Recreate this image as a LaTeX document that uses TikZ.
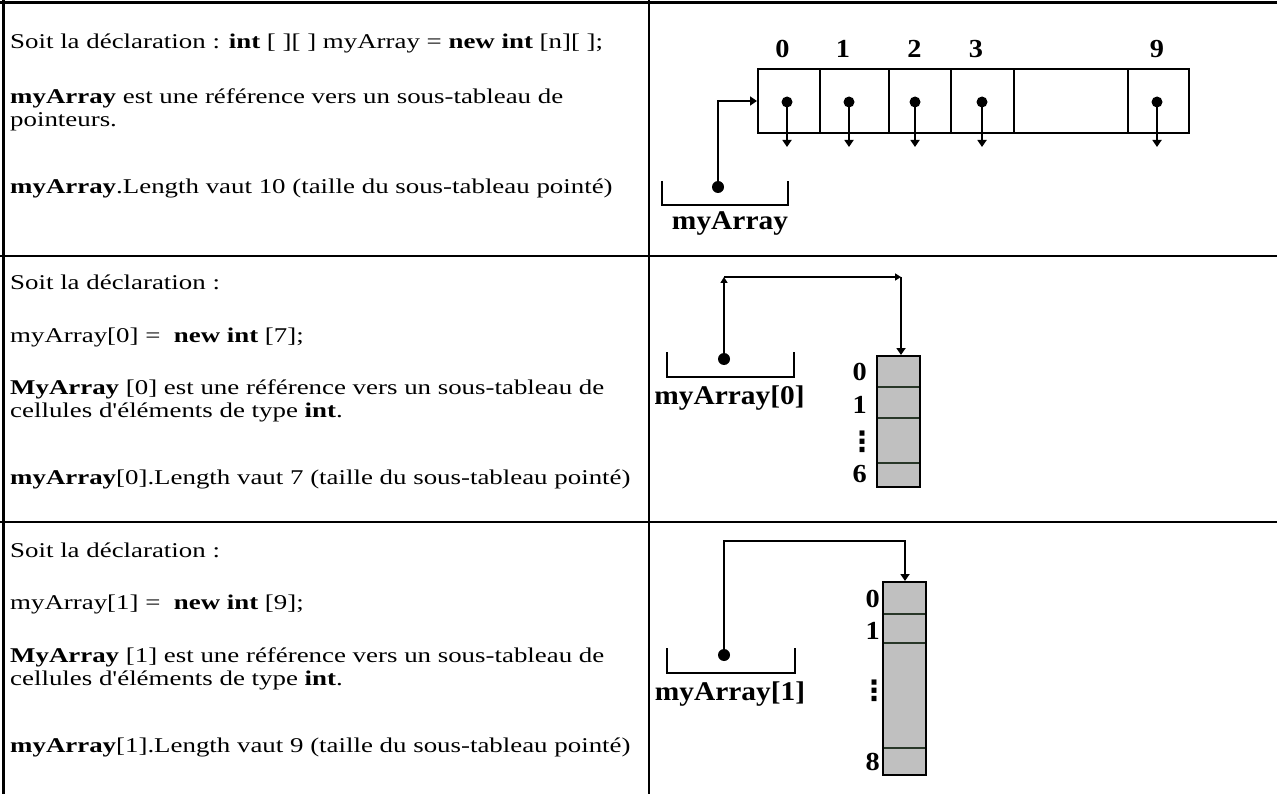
\documentclass[tikz,border=0pt]{standalone}
\usepackage{fontspec}
\newfontfamily\txtfont{Liberation Serif}[FakeStretch=1.28]
\newfontfamily\lblfont{Liberation Serif}[FakeStretch=1.09]
\newfontfamily\symfont{DejaVu Sans}
\usetikzlibrary{arrows.meta}
\definecolor{cellgray}{RGB}{192,192,192}
\definecolor{divcol}{RGB}{40,55,40}
\begin{document}
\begin{tikzpicture}[x=1pt,y=-1pt,
  txt/.style={anchor=base west, inner sep=0, font=\txtfont\fontsize{21}{23}\selectfont},
  lbl/.style={anchor=base, inner sep=0, font=\lblfont\bfseries\fontsize{27}{30}\selectfont},
  idx/.style={inner sep=0, font=\lblfont\bfseries\fontsize{26}{28}\selectfont},
  vdots/.style={inner sep=0, font=\symfont\bfseries\fontsize{28}{30}\selectfont},
  rule/.style={line width=2.5pt},
  wire/.style={line width=2pt},
  dotn/.style={circle, fill=black, inner sep=0, minimum size=12pt},
  cell/.style={draw, line width=2pt, inner sep=0, minimum height=64pt},
  gbox/.style={draw, line width=2pt, fill=cellgray, inner sep=0, minimum width=43pt},
  divline/.style={line width=1.6pt, divcol},
  tipa/.style={-{Triangle[width=9pt,length=7pt]}},
  tipb/.style={-{Triangle[width=7pt,length=6pt]}}]
\useasboundingbox (0,0) rectangle (1277,794);
\fill[white] (0,0) rectangle (1277,794);
% table rules
\draw[rule] (0,2.5) -- (1277,2.5);
\draw[rule] (0,256) -- (1277,256);
\draw[rule] (0,522) -- (1277,522);
\draw[rule] (3.5,0) -- (3.5,794);
\draw[rule] (649,0) -- (649,794);
% row 1 text
\node[txt] (t11) at (10,49) {Soit la déclaration : \textbf{int} [ ][ ] myArray = \textbf{new int} [n][ ];};
\node[txt] (t12) at (10,104) {\textbf{myArray} est une référence vers un sous-tableau de};
\node[txt] (t13) at (10,127) {pointeurs.};
\node[txt] (t14) at (10,194) {\textbf{myArray}.Length vaut 10 (taille du sous-tableau pointé)};
% row 2 text
\node[txt] (t21) at (10,290) {Soit la déclaration :};
\node[txt] (t22) at (10,342) {myArray[0] =\ \ \textbf{new int} [7];};
\node[txt] (t23) at (10,394) {\textbf{MyArray} [0] est une référence vers un sous-tableau de};
\node[txt] (t24) at (10,417) {cellules d'éléments de type \textbf{int}.};
\node[txt] (t25) at (10,484) {\textbf{myArray}[0].Length vaut 7 (taille du sous-tableau pointé)};
% row 3 text
\node[txt] (t31) at (10,557) {Soit la déclaration :};
\node[txt] (t32) at (10,609) {myArray[1] =\ \ \textbf{new int} [9];};
\node[txt] (t33) at (10,662) {\textbf{MyArray} [1] est une référence vers un sous-tableau de};
\node[txt] (t34) at (10,685) {cellules d'éléments de type \textbf{int}.};
\node[txt] (t35) at (10,752) {\textbf{myArray}[1].Length vaut 9 (taille du sous-tableau pointé)};

% ===== diagram 1 =====
\node[cell, minimum width=62pt]  (c0) at (789,101) {};
\node[cell, minimum width=69pt]  (c1) at (854.5,101) {};
\node[cell, minimum width=62pt]  (c2) at (920,101) {};
\node[cell, minimum width=63pt]  (c3) at (982.5,101) {};
\node[cell, minimum width=114pt] (c4) at (1071,101) {};
\node[cell, minimum width=61pt]  (c9) at (1158.5,101) {};
\node[idx] (i0) at (782.5,49) {0};
\node[idx] (i1) at (843,49) {1};
\node[idx] (i2) at (914.5,49) {2};
\node[idx] (i3) at (976,49) {3};
\node[idx] (i9) at (1157,49) {9};
\foreach \n/\x in {p0/787,p1/849,p2/915,p3/982,p9/1157}{
  \node[dotn, minimum size=11pt] (\n) at (\x,102) {};
  \coordinate (\n e) at (\x,147);
  \draw[wire, tipa] (\n.center) -- (\n e);
}
\node[dotn] (dA) at (718,187) {};
\draw[wire] (662,181) |- (788,205) -- (788,181);
\node[lbl] (lA) at (730,230) {myArray};
\draw[wire, tipa] (dA.center) |- (c0.west);

% ===== diagram 2 =====
\node[gbox, minimum height=131pt] (arr0) at (898.5,421.5) {};
\draw[divline] (878,387) -- (919,387);
\draw[divline] (878,418) -- (919,418);
\draw[divline] (878,463) -- (919,463);
\node[idx, anchor=east] (j0) at (867,372) {0};
\node[idx, anchor=east] (j1) at (867,405) {1};
\node[vdots] (j2) at (862,442) {⋮};
\node[idx, anchor=east] (j6) at (867,474) {6};
\node[dotn] (dB) at (724,359) {};
\draw[wire] (667,352) |- (794,377) -- (794,352);
\node[lbl] (lB) at (729.5,404) {myArray[0]};
\coordinate (k1) at (724,277);
\coordinate (k2) at (901,277);
\draw[wire, tipb] (dB.center) -- (k1);
\draw[wire, tipb] (k1) -- (k2);
\draw[wire, tipa] (k2) -- (k2 |- arr0.north);

% ===== diagram 3 =====
\node[gbox, minimum height=193pt] (arr1) at (904.5,678.5) {};
\draw[divline] (884,614) -- (925,614);
\draw[divline] (884,643) -- (925,643);
\draw[divline] (884,748) -- (925,748);
\node[idx, anchor=east] (m0) at (880,599) {0};
\node[idx, anchor=east] (m1) at (880,631) {1};
\node[vdots] (m2) at (874,691) {⋮};
\node[idx, anchor=east] (m8) at (880,762) {8};
\node[dotn] (dC) at (724,655) {};
\draw[wire] (667,648) |- (795,673) -- (795,648);
\node[lbl] (lC) at (730,700) {myArray[1]};
\coordinate (k3) at (905,541);
\draw[wire, tipa] (dC.center) |- (k3) -- (k3 |- arr1.north);
\end{tikzpicture}
\end{document}
